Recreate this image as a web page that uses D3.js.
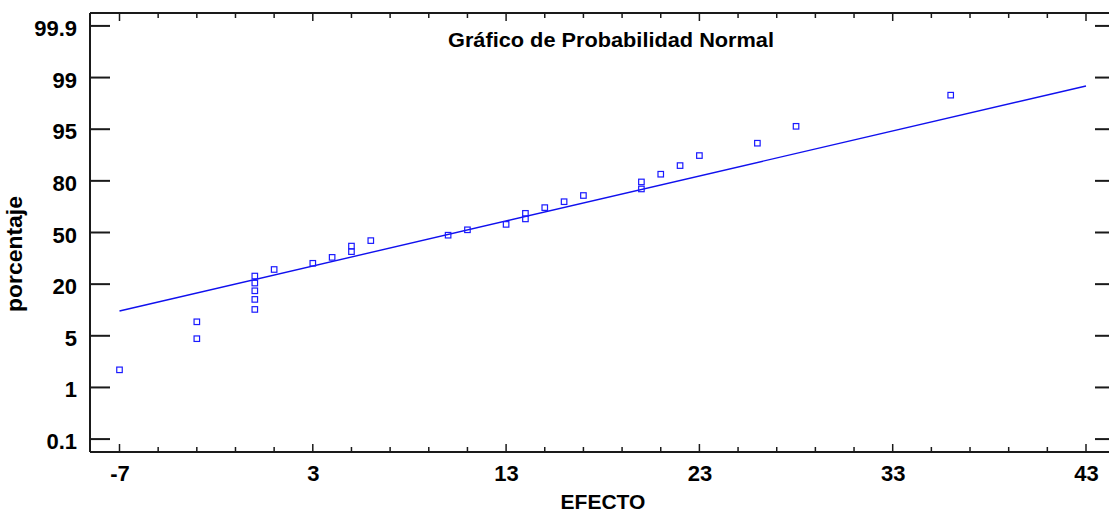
<!DOCTYPE html>
<html>
<head>
<meta charset="utf-8">
<script src="https://cdn.jsdelivr.net/npm/d3@7"></script>
<style>
  html, body { margin: 0; padding: 0; background: #ffffff; }
  svg { display: block; }
  text { font-family: "Liberation Sans", Arial, sans-serif; font-weight: bold; fill: #000; }
</style>
</head>
<body>
<svg id="chart" width="1109" height="515"></svg>
<script>
// ---- data ----
const effects = [-7, -3, -3, 0, 0, 0, 0, 0, 1, 3, 4, 5, 5, 6, 10, 11, 13, 14, 14, 15, 16, 17, 20, 20, 21, 22, 23, 26, 28, 36];
const percentages = [1.67, 5.00, 8.33, 11.67, 15.00, 18.33, 21.67, 25.00, 28.33, 31.67, 35.00, 38.33, 41.67, 45.00, 48.33,
                     51.67, 55.00, 58.33, 61.67, 65.00, 68.33, 71.67, 75.00, 78.33, 81.67, 85.00, 88.33, 91.67, 95.00, 98.33];
const lineEffects = [-7, 43];
const linePercentages = [11.2, 98.84];
const xTickValues = [-7, 3, 13, 23, 33, 43];
const yTickLabels = ["0.1", "1", "5", "20", "50", "80", "95", "99", "99.9"];
const yTickPositions = [-3.2, -2.4, -1.6, -0.8, 0, 0.8, 1.6, 2.4, 3.2]; // normal-score positions of the labels
const title = "Gráfico de Probabilidad Normal";
const xTitle = "EFECTO";
const yTitle = "porcentaje";

// inverse standard normal CDF (Acklam)
function probit(p) {
  const a = [-3.969683028665376e+01, 2.209460984245205e+02, -2.759285104469687e+02, 1.383577518672690e+02, -3.066479806614716e+01, 2.506628277459239e+00];
  const b = [-5.447609879822406e+01, 1.615858368580409e+02, -1.556989798598866e+02, 6.680131188771972e+01, -1.328068155288572e+01];
  const c = [-7.784894002430293e-03, -3.223964580411365e-01, -2.400758277161838e+00, -2.549732539343734e+00, 4.374664141464968e+00, 2.938163982698783e+00];
  const d = [7.784695709041462e-03, 3.224671290700398e-01, 2.445134137142996e+00, 3.754408661907416e+00];
  const pl = 0.02425, ph = 1 - pl;
  let q, r;
  if (p < pl) {
    q = Math.sqrt(-2 * Math.log(p));
    return (((((c[0]*q+c[1])*q+c[2])*q+c[3])*q+c[4])*q+c[5]) / ((((d[0]*q+d[1])*q+d[2])*q+d[3])*q+1);
  } else if (p <= ph) {
    q = p - 0.5; r = q*q;
    return (((((a[0]*r+a[1])*r+a[2])*r+a[3])*r+a[4])*r+a[5])*q / (((((b[0]*r+b[1])*r+b[2])*r+b[3])*r+b[4])*r+1);
  } else {
    q = Math.sqrt(-2 * Math.log(1 - p));
    return -(((((c[0]*q+c[1])*q+c[2])*q+c[3])*q+c[4])*q+c[5]) / ((((d[0]*q+d[1])*q+d[2])*q+d[3])*q+1);
  }
}

// ---- layout ----
const svg = d3.select("#chart");
const frame = { left: 90, right: 1115, top: 13, bottom: 452 };

const x = d3.scaleLinear().domain([-7, 43]).range([119.5, 1086]);
const y = d3.scaleLinear().domain([-3.4, 3.4]).range([frame.bottom, frame.top]);
const yPct = p => y(probit(p / 100));

const axisColor = "#1a1a1a";

// frame lines
[[frame.left, frame.top, frame.right, frame.top],
 [frame.left, frame.bottom, frame.right, frame.bottom],
 [frame.left, frame.top, frame.left, frame.bottom],
 [frame.right, frame.top, frame.right, frame.bottom]].forEach(s => {
  svg.append("line").attr("x1", s[0]).attr("y1", s[1]).attr("x2", s[2]).attr("y2", s[3])
    .attr("stroke", axisColor).attr("stroke-width", 2);
});

// x ticks (major + minor), bottom and top, pointing inward
const minorX = d3.range(-7, 44, 2);
const gb = svg.append("g").attr("transform", `translate(0,${frame.bottom})`);
gb.selectAll("line").data(minorX).enter().append("line")
  .attr("x1", d => x(d)).attr("x2", d => x(d))
  .attr("y1", 0).attr("y2", d => xTickValues.includes(d) ? -8 : -5)
  .attr("stroke", axisColor).attr("stroke-width", 1.5);
const gt = svg.append("g").attr("transform", `translate(0,${frame.top})`);
gt.selectAll("line").data(minorX).enter().append("line")
  .attr("x1", d => x(d)).attr("x2", d => x(d))
  .attr("y1", 0).attr("y2", d => xTickValues.includes(d) ? 8 : 5)
  .attr("stroke", axisColor).attr("stroke-width", 1.5);

// x tick labels via axis
const xAxis = d3.axisBottom(x).tickValues(xTickValues).tickSize(0).tickPadding(0).tickFormat(d => String(d));
const gx = svg.append("g").attr("transform", `translate(0,${frame.bottom})`).call(xAxis);
gx.select(".domain").remove();
gx.selectAll("text").attr("font-size", 22).attr("font-family", "Liberation Sans, Arial, sans-serif")
  .attr("font-weight", "bold").attr("fill", "#000").attr("dy", null).attr("y", 29);

// y ticks left and right
svg.append("g").selectAll("line").data(yTickPositions).enter().append("line")
  .attr("x1", frame.left).attr("x2", frame.left + 20)
  .attr("y1", d => y(d)).attr("y2", d => y(d))
  .attr("stroke", axisColor).attr("stroke-width", 2);
svg.append("g").selectAll("line").data(yTickPositions).enter().append("line")
  .attr("x1", frame.right).attr("x2", frame.right - 20)
  .attr("y1", d => y(d)).attr("y2", d => y(d))
  .attr("stroke", axisColor).attr("stroke-width", 2);

// y tick labels
svg.append("g").selectAll("text").data(yTickPositions).enter().append("text")
  .attr("x", 77).attr("y", d => y(d) + 10)
  .attr("text-anchor", "end").attr("font-size", 22)
  .text((d, i) => yTickLabels[i]);

// fitted line
svg.append("line")
  .attr("x1", x(lineEffects[0])).attr("y1", yPct(linePercentages[0]))
  .attr("x2", x(lineEffects[1])).attr("y2", yPct(linePercentages[1]))
  .attr("stroke", "#1010ee").attr("stroke-width", 1.4);

// points
svg.append("g").selectAll("rect").data(effects).enter().append("rect")
  .attr("x", d => x(d) - 2.75)
  .attr("y", (d, i) => yPct(percentages[i]) - 2.75)
  .attr("width", 5.5).attr("height", 5.5)
  .attr("fill", "none").attr("stroke", "#1a1aff").attr("stroke-width", 1.2);

// titles
svg.append("text").attr("x", 611).attr("y", 47).attr("text-anchor", "middle")
  .attr("font-size", 20).attr("textLength", 326).attr("lengthAdjust", "spacingAndGlyphs").text(title);
svg.append("text").attr("x", 603).attr("y", 509).attr("text-anchor", "middle")
  .attr("font-size", 21).text(xTitle);
svg.append("text").attr("transform", "translate(22,254) rotate(-90)").attr("text-anchor", "middle")
  .attr("font-size", 22).attr("textLength", 116).attr("lengthAdjust", "spacingAndGlyphs").text(yTitle);
</script>
</body>
</html>
